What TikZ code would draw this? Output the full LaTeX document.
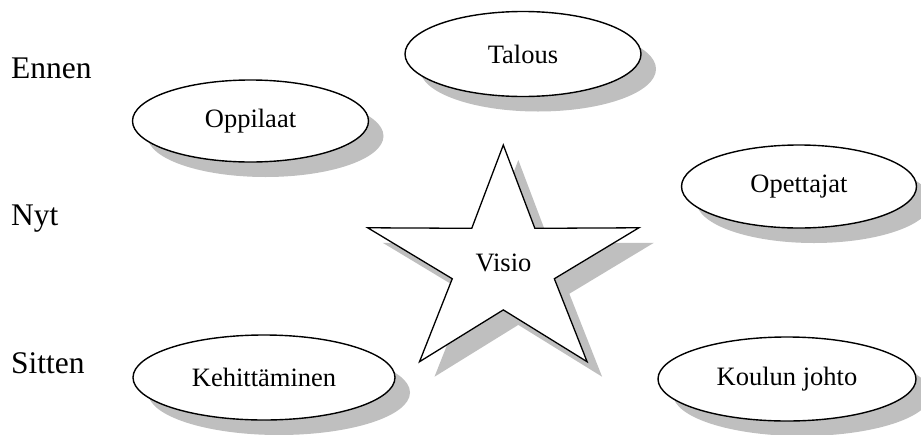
\documentclass[tikz,border=0pt]{standalone}
\usepackage{fontspec}
\setmainfont{Liberation Serif}
\usetikzlibrary{shapes.geometric, shadows}

\definecolor{shade}{gray}{0.75}

\begin{document}
\begin{tikzpicture}[
    x=1pt, y=-1pt,
    oval/.style={ellipse, draw, line width=1.4pt, fill=white, inner sep=0pt,
      font=\fontsize{26.5}{30}\selectfont,
      drop shadow={shadow xshift=15pt, shadow yshift=-15pt, fill=shade, opacity=1}},
    phase/.style={anchor=base west, inner sep=0pt, font=\fontsize{31.5}{36}\selectfont},
    starline/.style={draw, line width=1.3pt, fill=white, line join=miter},
    starshade/.style={fill=shade}
  ]
    \useasboundingbox (0,0) rectangle (921,434);
    % time labels
    \node[phase] (ennen) at (11,78) {Ennen};
    \node[phase] (nyt) at (11,225) {Nyt};
    \node[phase] (sitten) at (11,373) {Sitten};
    % star
    \begin{scope}[shift={(518.3,279.8)}, xscale=1.19, yscale=-1]
      \fill[starshade] (90:119.8) \foreach \k in {0,...,4} { -- ({126+72*\k}:45.1) -- ({162+72*\k}:119.8) } -- cycle;
    \end{scope}
    \begin{scope}[shift={(503.3,264.8)}, xscale=1.19, yscale=-1]
      \draw[starline] (90:119.8) \foreach \k in {0,...,4} { -- ({126+72*\k}:45.1) -- ({162+72*\k}:119.8) } -- cycle;
    \end{scope}
    \node[inner sep=0pt, font=\fontsize{26.5}{30}\selectfont] (visio) at (503.5,263) {Visio};
    % ellipses
    \node[oval, minimum width=236pt, minimum height=85pt] (talous) at (523,54) {Talous};
    \node[oval, minimum width=236pt, minimum height=82pt] (oppilaat) at (250.5,121) {Oppilaat};
    \node[oval, minimum width=235pt, minimum height=83pt] (opettajat) at (799,186.5) {Opettajat};
    \node[oval, minimum width=262pt, minimum height=85pt] (kehitys) at (264,377.5) {Kehittäminen};
    \node[oval, minimum width=258pt, minimum height=84pt] (johto) at (787,379) {Koulun johto};
  \end{tikzpicture}
\end{document}
